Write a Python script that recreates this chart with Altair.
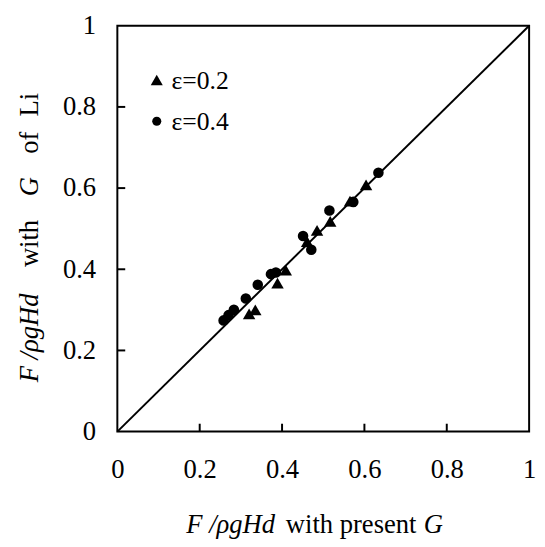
import altair as alt
import pandas as pd

# ---- data ----
series = ["ε=0.2", "ε=0.4"]
tri_x = [0.320, 0.335, 0.389, 0.409, 0.461, 0.485, 0.517, 0.565, 0.604]
tri_y = [0.290, 0.300, 0.366, 0.398, 0.468, 0.496, 0.518, 0.568, 0.608]
cir_x = [0.258, 0.270, 0.283, 0.312, 0.341, 0.373, 0.385, 0.451, 0.471, 0.515, 0.573, 0.634]
cir_y = [0.274, 0.287, 0.300, 0.328, 0.362, 0.388, 0.392, 0.482, 0.448, 0.545, 0.566, 0.638]
axis_values = [0, 0.2, 0.4, 0.6, 0.8, 1]
inner_ticks = [0.2, 0.4, 0.6, 0.8]
diag = [0, 1]
shapes = ["triangle-up", "circle"]

FONT = "Liberation Serif"
FS = 27
W = 418
H = 412

pts = pd.DataFrame({
    "x": tri_x + cir_x,
    "y": tri_y + cir_y,
    "s": [series[0]] * len(tri_x) + [series[1]] * len(cir_x),
})

xs = alt.Scale(domain=[0, 1], nice=False, zero=True)
ys = alt.Scale(domain=[0, 1], nice=False, zero=True)

x_axis = alt.Axis(values=axis_values, format="~g", title=None, ticks=False,
                  domain=False, grid=False, labelFont=FONT, labelFontSize=FS,
                  labelColor="black", labelPadding=26, labelFlush=False,
                  labelOverlap=False)
y_axis = alt.Axis(values=axis_values, format="~g", title=None, ticks=False,
                  domain=False, grid=False, labelFont=FONT, labelFontSize=FS,
                  labelColor="black", labelPadding=22, labelFlush=False,
                  labelOverlap=False)

points = alt.Chart(pts).mark_point(filled=True, opacity=1, color="black").encode(
    x=alt.X("x:Q", scale=xs, axis=x_axis),
    y=alt.Y("y:Q", scale=ys, axis=y_axis),
    shape=alt.Shape("s:N", scale=alt.Scale(domain=series, range=shapes), legend=None),
    size=alt.Size("s:N", scale=alt.Scale(domain=series, range=[160, 115]), legend=None),
)

diag_line = alt.Chart(pd.DataFrame({"d": diag})).mark_line(color="black", strokeWidth=2).encode(
    x=alt.X("d:Q", scale=xs, axis=x_axis),
    y=alt.Y("d:Q", scale=ys, axis=y_axis),
)

tick_df = pd.DataFrame({"t": inner_ticks})
xticks = alt.Chart(tick_df).mark_rule(color="black", strokeWidth=2).encode(
    x=alt.X("t:Q", scale=xs, axis=x_axis), y=alt.value(H), y2=alt.value(H - 8)
)
yticks = alt.Chart(tick_df).mark_rule(color="black", strokeWidth=2).encode(
    y=alt.Y("t:Q", scale=ys, axis=y_axis), x=alt.value(0), x2=alt.value(8)
)

one = pd.DataFrame({"a": [0]})

def txt(s, x, y, italic=False, angle=0, baseline="alphabetic", size=FS):
    kw = dict(text=s, font=FONT, fontSize=size, color="black", align="left",
              baseline=baseline, fontStyle="italic" if italic else "normal")
    if angle:
        kw["angle"] = angle
    return alt.Chart(one).mark_text(**kw).encode(x=alt.value(x), y=alt.value(y))

# legend (inside the plot, top-left)
legend = []
for i, (lab, shp, sz) in enumerate(zip(series, shapes, [150, 85])):
    ly = 55 + 42 * i
    legend.append(alt.Chart(one).mark_point(shape=shp, filled=True, opacity=1,
                                            color="black", size=sz)
                  .encode(x=alt.value(40), y=alt.value(ly)))
    legend.append(txt(lab, 55, ly + 1, baseline="middle", size=26))

# x-axis title pieces
xt_y = 515
x0 = 70
xtitle = [
    txt("F /ρgHd", x0, xt_y, italic=True),
    txt("with present", x0 + 101, xt_y),
    txt("G", x0 + 241, xt_y, italic=True),
]
# y-axis title pieces (rotated, reading upward)
yt_x = -81
y0 = 362
ytitle = [
    txt("F /ρgHd", yt_x, y0, italic=True, angle=270),
    txt("with", yt_x, y0 - 117, angle=270),
    txt("G", yt_x, y0 - 189, italic=True, angle=270),
    txt("of", yt_x, y0 - 232, angle=270),
    txt("Li", yt_x, y0 - 270, angle=270),
]

chart = alt.layer(points, diag_line, xticks, yticks, *legend, *xtitle, *ytitle).properties(
    width=W, height=H,
    autosize=alt.AutoSizeParams(type="none"),
    padding={"left": 111, "top": 14, "right": 8, "bottom": 105},
    background="white",
).configure_view(stroke="black", strokeWidth=2)

chart.save("out.html", embed_options={"renderer": "svg", "actions": False})
